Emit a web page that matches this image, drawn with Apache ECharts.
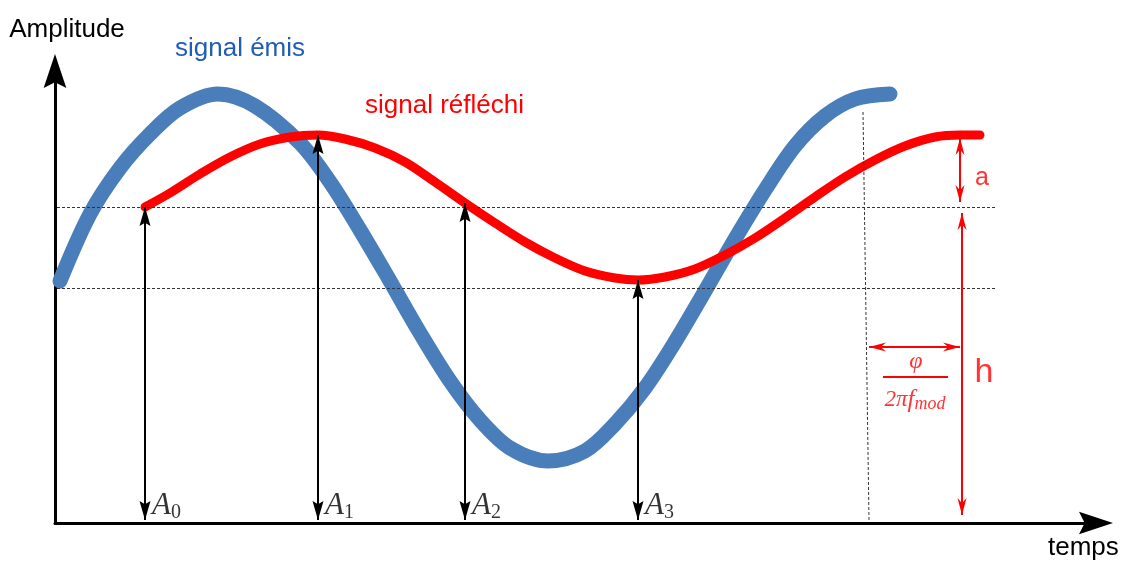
<!DOCTYPE html>
<html>
<head>
<meta charset="utf-8">
<title>signal émis / signal réfléchi</title>
<script src="https://cdn.jsdelivr.net/npm/echarts@6/dist/echarts.min.js"></script>
<style>
  html, body { margin: 0; padding: 0; background: #fff; }
  #chart { width: 1125px; height: 561px; }
</style>
</head>
<body>
<div id="chart"></div>
<script>
// signal émis (bleu)
var emisTemps = [5, 35, 65, 95, 125, 163, 200, 245, 275, 305, 335, 365, 395, 425, 455,
  493, 530, 560, 590, 620, 650, 680, 710, 740, 770, 800, 835];
var emisAmpl = [242, 309, 355, 389, 415, 429, 417, 380, 341, 293, 242, 190, 142, 103, 75,
  62, 72, 99, 135, 181, 232, 284, 333, 377, 407, 424, 429];

// signal réfléchi (rouge)
var reflTemps = [90, 115, 145, 175, 205, 235, 263, 290, 320, 350, 380, 410, 440, 470, 500,
  530, 560, 583, 610, 640, 670, 700, 730, 760, 790, 820, 850, 880, 905, 925];
var reflAmpl = [316, 330, 349, 366, 379, 386, 388, 384, 375, 361, 341, 320, 300, 281, 265,
  252, 245, 243, 246, 254, 268, 285, 305, 326, 346, 363, 377, 386, 388, 388];

// mesures A0..A3 (indices dans le signal réfléchi)
var mesureNoms = ['0', '1', '2', '3'];
var mesureIdx = [0, 6, 11, 17];

// pointillés horizontaux et vertical
var niveaux = [316, 235];
var niveauxDebut = 2, niveauxFin = 942;
var retardTemps = [808, 814];

// annotations rouges : a, h, déphasage
var aHaut = 385, aBas = 321;
var hHaut = 310, hBas = 8;
var mesureTemps = 905;
var dephasageAmpl = 176;

var myChart = echarts.init(document.getElementById('chart'));

var flecheNoire = 'path://M5,0L10,18L5,15L0,18Z';
var flecheRouge = 'path://M4,0L8,16L4,11L0,16Z';
var flecheAxe = 'path://M10,0L20,30L10,25L0,30Z';

function pt(t, v) { return { coord: [t, v] }; }

var flechesMesure = mesureIdx.map(function (i) {
  return [pt(reflTemps[i], 3), pt(reflTemps[i], reflAmpl[i])];
});

var pointilles = niveaux.map(function (v) {
  return [pt(niveauxDebut, v), pt(niveauxFin, v)];
});
pointilles.push([pt(retardTemps[0], 411), pt(retardTemps[1], 3)]);

var option = {
  animation: false,
  grid: { left: 55, right: 29, top: 71, bottom: 38 },
  xAxis: {
    type: 'value', min: 0, max: 1041,
    name: 'temps', nameLocation: 'end', nameGap: -48,
    nameTextStyle: { fontFamily: 'Liberation Sans', fontSize: 26, color: '#000',
      verticalAlign: 'top', padding: [12, 0, 0, 0] },
    axisLine: { lineStyle: { color: '#000', width: 3 },
      symbol: ['none', flecheAxe], symbolSize: [24, 34] },
    axisTick: { show: false }, axisLabel: { show: false }, splitLine: { show: false }
  },
  yAxis: {
    type: 'value', min: 0, max: 452,
    name: 'Amplitude', nameLocation: 'end', nameGap: 28,
    nameTextStyle: { fontFamily: 'Liberation Sans', fontSize: 26, color: '#000',
      padding: [0, 0, 0, 24] },
    axisLine: { lineStyle: { color: '#000', width: 3 },
      symbol: ['none', flecheAxe], symbolSize: [24, 34] },
    axisTick: { show: false }, axisLabel: { show: false }, splitLine: { show: false }
  },
  graphic: [
    { type: 'text', left: 175, top: 36,
      style: { text: 'signal émis', fill: '#1f5cb8', font: '26px "Liberation Sans"' } },
    { type: 'text', left: 365, top: 93,
      style: { text: 'signal réfléchi', fill: '#ff0000', font: '26px "Liberation Sans"' } }
  ],
  series: [
    {
      name: 'pointillés', type: 'line', data: [], z: 1,
      markLine: {
        silent: true, symbol: 'none', label: { show: false },
        lineStyle: { color: '#333', width: 1, type: [3, 2] },
        data: pointilles
      }
    },
    {
      name: 'signal émis', type: 'line', z: 2,
      data: emisTemps.map(function (t, i) { return [t, emisAmpl[i]]; }),
      smooth: 0.33, symbol: 'none',
      lineStyle: { color: '#4a7ebb', width: 15, cap: 'round' }
    },
    {
      name: 'signal réfléchi', type: 'line', z: 3,
      data: reflTemps.map(function (t, i) { return [t, reflAmpl[i]]; }),
      smooth: 0.33, symbol: 'none',
      lineStyle: { color: '#ff0000', width: 9, cap: 'round' },
      markLine: {
        silent: true, label: { show: false },
        symbol: [flecheRouge, flecheRouge],
        symbolSize: [9, 17], symbolOffset: [[0, 8.5], [0, 8.5]],
        lineStyle: { color: '#ff0000', width: 2, type: 'solid' },
        data: [
          [pt(mesureTemps, aHaut), pt(mesureTemps, aBas)],
          [pt(mesureTemps + 2, hHaut), pt(mesureTemps + 2, hBas)],
          [pt(retardTemps[1], dephasageAmpl), pt(mesureTemps, dephasageAmpl)],
          [{ coord: [828, 146], symbol: 'none' }, { coord: [893, 146], symbol: 'none' }]
        ]
      }
    },
    {
      name: 'mesures', type: 'scatter', z: 4, symbolSize: 0,
      data: mesureIdx.map(function (i, k) {
        return { value: [reflTemps[i], 17], name: mesureNoms[k] };
      }),
      label: {
        show: true, position: 'right', distance: 7,
        formatter: function (p) { return '{a|A}{s|' + p.name + '}'; },
        rich: {
          a: { fontFamily: 'Liberation Serif', fontStyle: 'italic', fontSize: 31, color: '#000' },
          s: { fontFamily: 'Liberation Serif', fontSize: 20, color: '#000', padding: [13, 0, 0, 0] }
        }
      },
      markLine: {
        silent: true, label: { show: false },
        symbol: [flecheNoire, flecheNoire],
        symbolSize: [11, 19], symbolOffset: [[0, 9.5], [0, 9.5]],
        lineStyle: { color: '#000', width: 2, type: 'solid' },
        data: flechesMesure
      }
    },
    {
      name: 'notes', type: 'scatter', z: 5, symbolSize: 0,
      label: { show: true, position: 'inside', color: '#ff0000' },
      data: [
        { value: [927, 345], label: { formatter: 'a', fontFamily: 'Liberation Sans', fontSize: 25 } },
        { value: [929, 150], label: { formatter: 'h', fontFamily: 'Liberation Sans', fontSize: 34 } },
        { value: [861, 161], label: { formatter: 'φ', fontFamily: 'Liberation Serif', fontStyle: 'italic', fontSize: 24 } },
        { value: [860, 123], label: {
          formatter: '{n|2π}{f|f}{s|mod}',
          rich: {
            n: { fontFamily: 'Liberation Serif', fontStyle: 'italic', fontSize: 23, color: '#ff0000' },
            f: { fontFamily: 'Liberation Serif', fontStyle: 'italic', fontSize: 25, color: '#ff0000' },
            s: { fontFamily: 'Liberation Serif', fontStyle: 'italic', fontSize: 18, color: '#ff0000', padding: [9, 0, 0, 0] }
          }
        } }
      ]
    }
  ]
};

myChart.setOption(option);
</script>
</body>
</html>
